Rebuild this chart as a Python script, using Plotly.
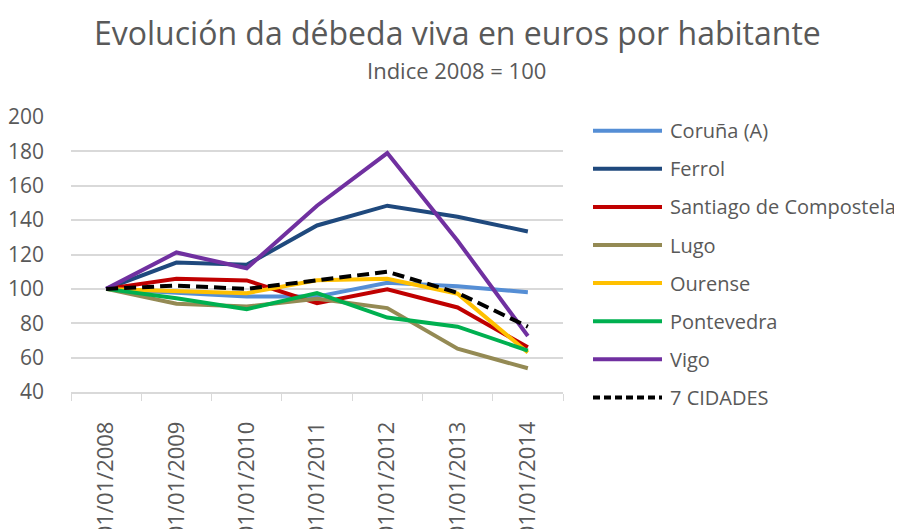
import plotly.graph_objects as go

dates = ["01/01/2008", "01/01/2009", "01/01/2010", "01/01/2011", "01/01/2012", "01/01/2013", "01/01/2014"]

coruna = [100, 97.5, 95.5, 95.5, 103.5, 101.5, 98.1]
ferrol = [100, 115.3, 114, 136.9, 148.4, 142, 133.4]
santiago = [100, 105.9, 104.9, 91.7, 99.8, 89.2, 66]
lugo = [100, 91.3, 89.7, 94.3, 88.8, 65.2, 53.8]
ourense = [100, 99, 97.5, 105, 105.9, 97.2, 63]
pontevedra = [100, 94.6, 88.2, 97.5, 83.3, 78, 64.1]
vigo = [100, 121.2, 112, 148.4, 179, 128, 72.6]
sete_cidades = [100, 101.9, 100, 104.8, 110, 97.7, 78]

names = ["Coruña (A)", "Ferrol", "Santiago de Compostela", "Lugo", "Ourense",
         "Pontevedra", "Vigo", "7 CIDADES"]
series = [coruna, ferrol, santiago, lugo, ourense, pontevedra, vigo, sete_cidades]
colors = ["#558ED5", "#1F497D", "#C00000", "#948A54", "#FFC000", "#00B050", "#7030A0", "#000000"]
dashes = ["solid"] * 7 + ["12px,6px"]

y_ticks = [40, 60, 80, 100, 120, 140, 160, 180, 200]

FONT = "Open Sans"
GRAY = "#595959"
W, H = 902, 529
OFF = 8  # page body margin
L, R, T, B = 71 - OFF, 563 - OFF, 117 - OFF, 392 - OFF

fig = go.Figure()
for n, s, c, d in zip(names, series, colors, dashes):
    fig.add_trace(go.Scatter(x=dates, y=s, mode="lines", name=n,
                             line=dict(color=c, width=4, dash=d),
                             showlegend=False))

def px_x(p):
    return (p - OFF - L) / (R - L)

def px_y(p):
    return (B - (p - OFF)) / (B - T)

shapes = []
annotations = []
row0, step = 130.7, 38.1
for i, (n, c, d) in enumerate(zip(names, colors, dashes)):
    yy = px_y(row0 + i * step)
    shapes.append(dict(type="line", xref="paper", yref="paper",
                       x0=px_x(593), x1=px_x(662), y0=yy, y1=yy,
                       line=dict(color=c, width=4,
                                 dash="7px,4px" if d != "solid" else "solid")))
    annotations.append(dict(text=n, xref="paper", yref="paper", x=px_x(668), y=yy,
                            xanchor="left", yanchor="middle", showarrow=False,
                            font=dict(family=FONT, size=20, color=GRAY)))

annotations.append(dict(text="Evolución da débeda viva en euros por habitante",
                        xref="paper", yref="paper", x=px_x(457.5), y=px_y(32),
                        xanchor="center", yanchor="middle", showarrow=False,
                        font=dict(family=FONT, size=32, color=GRAY)))
annotations.append(dict(text="Indice 2008 = 100",
                        xref="paper", yref="paper", x=px_x(456), y=px_y(70),
                        xanchor="center", yanchor="middle", showarrow=False,
                        font=dict(family=FONT, size=22, color=GRAY)))

fig.update_layout(
    width=W, height=H,
    margin=dict(l=L, r=W - R, t=T, b=H - B, autoexpand=False),
    paper_bgcolor="white", plot_bgcolor="white",
    shapes=shapes, annotations=annotations,
    showlegend=False,
    xaxis=dict(type="category", range=[-0.5, 6.5], tickangle=-90, automargin=False,
               showgrid=False, showline=True, linecolor="#D9D9D9", linewidth=1.5,
               ticks="outside", tickson="boundaries", ticklen=7, tickcolor="#D9D9D9",
               ticklabelstandoff=19,
               tickfont=dict(family=FONT, size=22, color=GRAY), fixedrange=True),
    yaxis=dict(range=[40, 200], tickvals=y_ticks, showgrid=True, gridcolor="#D9D9D9",
               gridwidth=1.5, showline=False, zeroline=False, ticks="", automargin=False,
               ticklabelstandoff=26,
               tickfont=dict(family=FONT, size=21, color=GRAY), fixedrange=True),
)

fig.write_html("out.html")
